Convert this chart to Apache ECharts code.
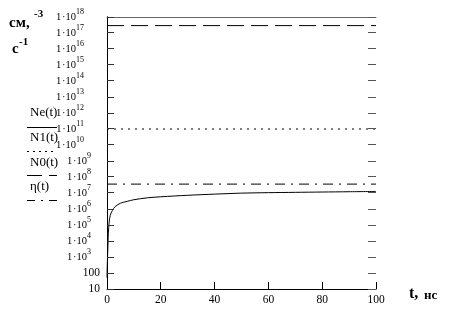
<!DOCTYPE html>
<html><head><meta charset="utf-8">
<script src="https://cdn.jsdelivr.net/npm/echarts@6/dist/echarts.min.js"></script>
<style>html,body{margin:0;padding:0;background:#fff}#c{width:465px;height:310px}</style>
</head><body><div id="c"></div>
<script>
// Data
const tNe = [0, 0.1, 0.3, 0.5, 0.8, 1.2, 2, 3, 5, 7.5, 10, 15, 20, 30, 40, 50, 60, 70, 80, 90, 100];
const Ne  = [50, 300, 3e3, 3e4, 1.5e5, 4e5, 8e5, 1.4e6, 2.3e6, 3e6, 3.8e6, 5e6, 5.8e6, 7.2e6, 8.5e6, 9.8e6, 1.05e7, 1.1e7, 1.15e7, 1.2e7, 1.25e7];
const tFlat = [0, 100];
const N1 = [1e11, 1e11];
const N0 = [2.9e17, 2.9e17];
const eta = [3.6e7, 3.6e7];
const xTicks = [0, 20, 40, 60, 80, 100];
const yTicks = [10, 1e2, 1e3, 1e4, 1e5, 1e6, 1e7, 1e8, 1e9, 1e10, 1e11, 1e12, 1e13, 1e14, 1e15, 1e16, 1e17, 1e18];

const serif = '"Liberation Serif", "DejaVu Serif", serif';
const pair = (ts, vs) => ts.map((t, i) => [t, vs[i]]);

function supLabel(e) {
  if (e === 1) return '{b|10}';
  if (e === 2) return '{b|100}';
  return '{a|1\u200a\u00b710}{' + (e >= 10 ? 's2' : 's1') + '|' + e + '}';
}
const fmtOdd = v => { const e = Math.round(Math.log10(v)); return e % 2 === 1 ? supLabel(e) : ''; };
const fmtEven = v => { const e = Math.round(Math.log10(v)); return e % 2 === 0 ? supLabel(e) : ''; };
const rich = {
  a: { fontFamily: serif, fontSize: 10.5, color: '#000', lineHeight: 10 },
  b: { fontFamily: serif, fontSize: 11.5, color: '#000', lineHeight: 10 },
  s1: { fontFamily: serif, fontSize: 8, color: '#000', lineHeight: 10, padding: [0, 9, 11, 0] },
  s2: { fontFamily: serif, fontSize: 8, color: '#000', lineHeight: 10, padding: [0, 16, 11, 0] }
};

const chart = echarts.init(document.getElementById('c'), null, { renderer: 'canvas' });
const legendX0 = 27, legendX1 = 57;
const lstyle = (dash) => ({ stroke: '#000', lineWidth: 1, lineDash: dash });
const noLabel = { show: false };
const crisp = v => Math.round(v - 0.5) + 0.5;
const logAxis = (extra) => Object.assign({
  type: 'log', logBase: 10, min: 10, max: 1e18, interval: 1,
  axisTick: { show: false }, splitLine: { show: false }, minorTick: { show: false }
}, extra);

chart.setOption({
  animation: false,
  grid: { left: 107, right: 89, top: 17, bottom: 21 },
  xAxis: [{
    type: 'value', min: 0, max: 100, interval: 20,
    axisLine: { show: true, lineStyle: { color: '#000', width: 1 } },
    axisTick: { show: false },
    axisLabel: { fontFamily: serif, fontSize: 11.5, color: '#000', margin: 5,
      formatter: v => xTicks.includes(v) ? String(v) : '' },
    splitLine: { show: false }
  }, {
    type: 'value', position: 'top', min: 0, max: 100,
    axisLine: { show: true, lineStyle: { color: '#666', width: 1 } },
    axisTick: { show: false }, axisLabel: noLabel, splitLine: { show: false }
  }],
  yAxis: [
    logAxis({ position: 'left', axisLine: { show: true, lineStyle: { color: '#000', width: 1 } },
      axisLabel: { formatter: fmtOdd, rich: rich, margin: 7, showMinLabel: true, showMaxLabel: false } }),
    logAxis({ position: 'right', axisLine: { show: true, lineStyle: { color: '#000', width: 1 } }, axisLabel: noLabel }),
    logAxis({ position: 'left', axisLine: { show: false },
      axisLabel: { formatter: fmtEven, rich: rich, margin: 7, showMinLabel: false, showMaxLabel: true } })
  ],
  series: [
    { name: 'yTicks', type: 'custom', clip: false, silent: true, z: 50, zlevel: 1,
      data: yTicks.map(v => [0, v]),
      renderItem: (params, api) => {
        const p = api.coord([0, api.value(1)]);
        const cs = params.coordSys;
        const y = crisp(p[1]);
        return { type: 'group', children: [
          { type: 'line', shape: { x1: cs.x, y1: y, x2: cs.x + 7, y2: y }, style: { stroke: '#333', lineWidth: 1 } },
          { type: 'line', shape: { x1: cs.x + cs.width - 8, y1: y, x2: cs.x + cs.width, y2: y }, style: { stroke: '#555', lineWidth: 1 } }
        ] };
      } },
    { name: 'xTicks', type: 'custom', clip: false, silent: true, z: 50, zlevel: 1,
      data: xTicks.map(t => [t, 10]),
      renderItem: (params, api) => {
        const p = api.coord([api.value(0), 10]);
        const x = crisp(p[0]);
        return { type: 'group', children: [
          { type: 'line', shape: { x1: x, y1: p[1], x2: x, y2: p[1] - 7 }, style: { stroke: '#000', lineWidth: 1 } }
        ] };
      } },
    { name: 'Ne(t)', type: 'line', data: pair(tNe, Ne), showSymbol: false, smooth: 0.3,
      lineStyle: { color: '#000', width: 1 } },
    { name: 'N1(t)', type: 'line', data: pair(tFlat, N1), showSymbol: false,
      lineStyle: { color: '#000', width: 1, type: [2, 5] } },
    { name: 'N0(t)', type: 'line', data: pair(tFlat, N0), showSymbol: false,
      lineStyle: { color: '#000', width: 1, type: [17, 7] } },
    { name: '\u03b7(t)', type: 'line', data: pair(tFlat, eta), showSymbol: false,
      lineStyle: { color: '#000', width: 1, type: [10, 6, 2, 6] } }
  ],
  graphic: [
    { type: 'text', x: 9, y: 23, style: { text: '\u0441\u043c,', font: 'bold 15px ' + serif, fill: '#000', verticalAlign: 'middle' } },
    { type: 'text', x: 34, y: 14, style: { text: '-3', font: 'bold 11px ' + serif, fill: '#000', verticalAlign: 'middle' } },
    { type: 'text', x: 12, y: 49, style: { text: '\u0441', font: 'bold 15px ' + serif, fill: '#000', verticalAlign: 'middle' } },
    { type: 'text', x: 19, y: 42, style: { text: '-1', font: 'bold 11px ' + serif, fill: '#000', verticalAlign: 'middle' } },
    { type: 'text', left: 30, top: 106, style: { text: 'Ne(t)', font: '13px ' + serif, fill: '#000' } },
    { type: 'line', shape: { x1: legendX0, y1: 127.5, x2: legendX1, y2: 127.5 }, style: lstyle(null) },
    { type: 'text', left: 30, top: 131, style: { text: 'N1(t)', font: '13px ' + serif, fill: '#000' } },
    { type: 'line', shape: { x1: legendX0, y1: 151.5, x2: legendX1, y2: 151.5 }, style: lstyle([2, 4]) },
    { type: 'text', left: 30, top: 156, style: { text: 'N0(t)', font: '13px ' + serif, fill: '#000' } },
    { type: 'line', shape: { x1: legendX0, y1: 175.5, x2: legendX1, y2: 175.5 }, style: lstyle([15, 7]) },
    { type: 'text', left: 30, top: 180, style: { text: '\u03b7(t)', font: '13px ' + serif, fill: '#000' } },
    { type: 'line', shape: { x1: legendX0, y1: 200.5, x2: legendX1, y2: 200.5 }, style: lstyle([8, 6, 2, 6]) },
    { type: 'text', left: 409, top: 286, style: { text: 't,', font: 'bold 16px ' + serif, fill: '#000' } },
    { type: 'text', left: 424, top: 289, style: { text: '\u043d\u0441', font: 'bold 13px ' + serif, fill: '#000' } }
  ]
});
</script></body></html>
